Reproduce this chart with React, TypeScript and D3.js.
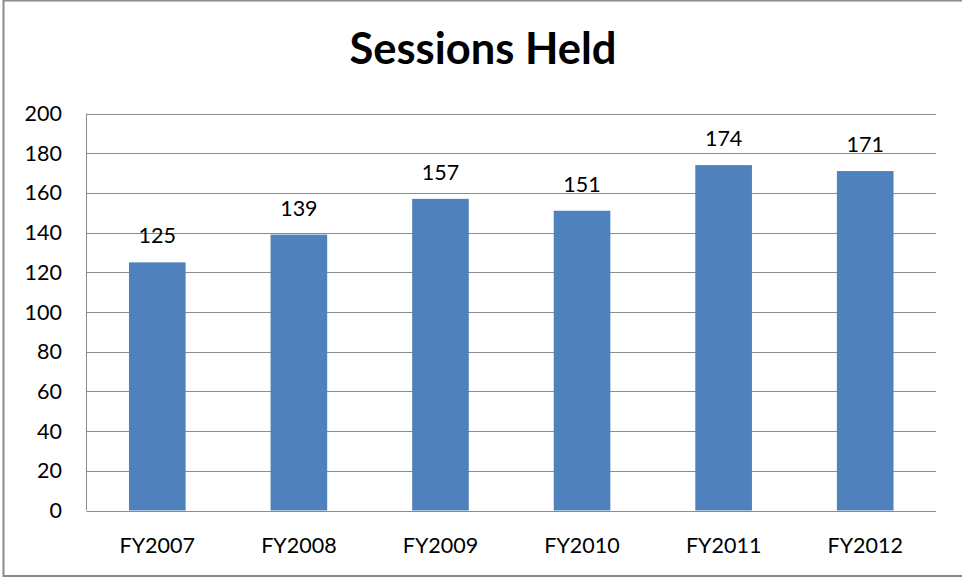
import React, { useEffect, useRef } from "react";
import * as d3 from "d3";

const categories = ["FY2007", "FY2008", "FY2009", "FY2010", "FY2011", "FY2012"];
const sessions = [125, 139, 157, 151, 174, 171];
const yTicks = [0, 20, 40, 60, 80, 100, 120, 140, 160, 180, 200];
const title = "Sessions Held";

const W = 962;
const H = 577;
const FONT = "Lato, 'Open Sans', sans-serif";

const App: React.FC = () => {
  const ref = useRef<SVGSVGElement | null>(null);

  useEffect(() => {
    if (!ref.current) return;
    const svg = d3.select(ref.current);
    svg.selectAll("*").remove();

    // chart frame
    svg
      .append("rect")
      .attr("x", 3.5)
      .attr("y", 0.5)
      .attr("width", W + 10)
      .attr("height", H - 1.5)
      .attr("fill", "#fff")
      .attr("stroke", "#8a8a8a")
      .attr("stroke-width", 2);

    const plot = { left: 86.5, right: 936, top: 113.5, bottom: 510.5 };

    const x = d3
      .scaleBand<string>()
      .domain(categories)
      .range([plot.left, plot.right])
      .paddingInner(0.6)
      .paddingOuter(0.3);

    const y = d3.scaleLinear().domain([0, 200]).range([plot.bottom, plot.top]);

    // title
    svg
      .append("text")
      .attr("x", 483)
      .attr("y", 64)
      .attr("text-anchor", "middle")
      .attr("font-family", FONT)
      .attr("font-weight", "bold")
      .attr("font-size", 43.5)
      .attr("fill", "#000")
      .text(title);

    // gridlines
    svg
      .append("g")
      .selectAll("line")
      .data(yTicks)
      .join("line")
      .attr("x1", plot.left)
      .attr("x2", plot.right)
      .attr("y1", (d) => Math.round(y(d)) + 0.5)
      .attr("y2", (d) => Math.round(y(d)) + 0.5)
      .attr("stroke", "#8c8c8c")
      .attr("stroke-width", 1);

    // y axis line
    svg
      .append("line")
      .attr("x1", plot.left)
      .attr("x2", plot.left)
      .attr("y1", plot.top)
      .attr("y2", plot.bottom)
      .attr("stroke", "#8c8c8c");

    // y labels
    svg
      .append("g")
      .selectAll("text")
      .data(yTicks)
      .join("text")
      .attr("x", 62)
      .attr("y", (d) => y(d) + 7.5)
      .attr("text-anchor", "end")
      .attr("font-family", FONT)
      .attr("font-size", 21.5)
      .attr("fill", "#000")
      .text((d) => d);

    // bars
    svg
      .append("g")
      .selectAll("rect")
      .data(sessions)
      .join("rect")
      .attr("x", (_, i) => x(categories[i])!)
      .attr("width", x.bandwidth())
      .attr("y", (d) => y(d))
      .attr("height", (d) => plot.bottom - y(d))
      .attr("fill", "#4f81bd");

    // value labels
    svg
      .append("g")
      .selectAll("text")
      .data(sessions)
      .join("text")
      .attr("x", (_, i) => x(categories[i])! + x.bandwidth() / 2)
      .attr("y", (d) => y(d) - 19)
      .attr("text-anchor", "middle")
      .attr("font-family", FONT)
      .attr("font-size", 21.5)
      .attr("fill", "#000")
      .text((d) => d);

    // category labels
    svg
      .append("g")
      .selectAll("text")
      .data(categories)
      .join("text")
      .attr("x", (d) => x(d)! + x.bandwidth() / 2)
      .attr("y", 553)
      .attr("text-anchor", "middle")
      .attr("font-family", FONT)
      .attr("font-size", 21.5)
      .attr("fill", "#000")
      .text((d) => d);
  }, []);

  return (
    <svg
      ref={ref}
      width={W}
      height={H}
      style={{ position: "absolute", left: 0, top: 0, display: "block" }}
    ></svg>
  );
};

export default App;
